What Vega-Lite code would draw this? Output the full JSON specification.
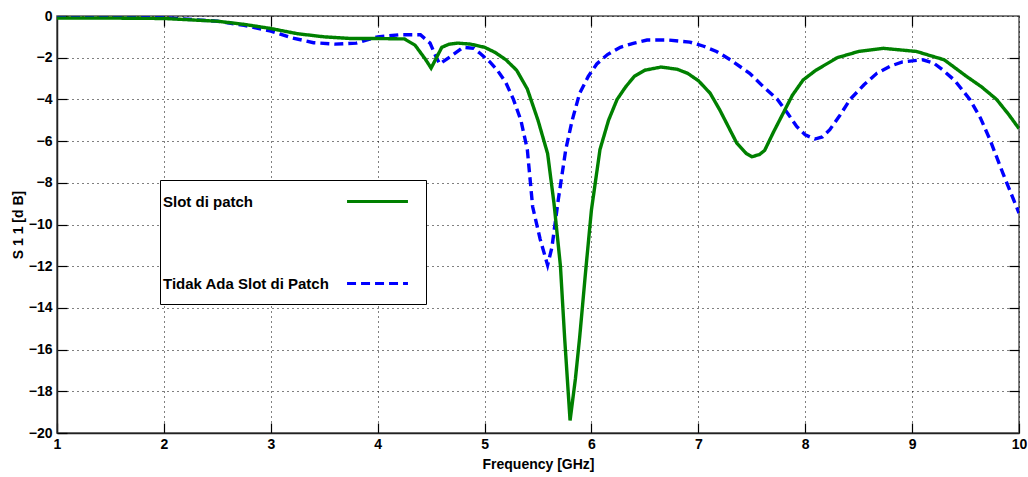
{
  "$schema": "https://vega.github.io/schema/vega-lite/v6.json",
  "width": 962,
  "height": 417,
  "autosize": {"type": "none"},
  "padding": {"left": 57, "top": 16, "right": 9, "bottom": 44},
  "background": "white",
  "config": {
    "view": {"stroke": "#555", "strokeWidth": 1.5},
    "font": "Liberation Sans",
    "axis": {
      "labelFont": "Liberation Sans", "labelFontSize": 14, "labelFontWeight": "bold", "labelColor": "#000",
      "titleFont": "Liberation Sans", "titleFontSize": 14, "titleFontWeight": "bold", "titleColor": "#000",
      "tickColor": "#000", "tickSize": -10, "tickWidth": 1.2,
      "domainColor": "#222", "domainWidth": 1.5,
      "gridColor": "#000", "gridDash": [1, 4], "gridOpacity": 1, "gridWidth": 1,
      "labelFlush": false, "labelOverlap": false
    },
    "legend": {
      "orient": "none", "legendX": 103, "legendY": 164,
      "fillColor": "white", "strokeColor": "#000", "strokeWidth": 1, "cornerRadius": 0,
      "padding": 12,
      "labelFont": "Liberation Sans", "labelFontSize": 15, "labelFontWeight": "bold", "labelColor": "#000", "labelLimit": 400,
      "symbolType": "M-4,0H4", "symbolSize": 232, "symbolStrokeWidth": 3,
      "labelOffset": -224, "symbolOffset": 196, "rowPadding": 64
    }
  },
  "data": {"values": [
    {"f": 1.0, "v": -0.05, "s": "Tidak Ada Slot di Patch"},
    {"f": 1.5, "v": -0.05, "s": "Tidak Ada Slot di Patch"},
    {"f": 2.0, "v": -0.08, "s": "Tidak Ada Slot di Patch"},
    {"f": 2.5, "v": -0.25, "s": "Tidak Ada Slot di Patch"},
    {"f": 2.75, "v": -0.45, "s": "Tidak Ada Slot di Patch"},
    {"f": 3.0, "v": -0.72, "s": "Tidak Ada Slot di Patch"},
    {"f": 3.2, "v": -1.05, "s": "Tidak Ada Slot di Patch"},
    {"f": 3.4, "v": -1.28, "s": "Tidak Ada Slot di Patch"},
    {"f": 3.6, "v": -1.35, "s": "Tidak Ada Slot di Patch"},
    {"f": 3.8, "v": -1.3, "s": "Tidak Ada Slot di Patch"},
    {"f": 4.0, "v": -1.0, "s": "Tidak Ada Slot di Patch"},
    {"f": 4.2, "v": -0.9, "s": "Tidak Ada Slot di Patch"},
    {"f": 4.4, "v": -0.9, "s": "Tidak Ada Slot di Patch"},
    {"f": 4.49, "v": -1.3, "s": "Tidak Ada Slot di Patch"},
    {"f": 4.55, "v": -2.0, "s": "Tidak Ada Slot di Patch"},
    {"f": 4.58, "v": -2.3, "s": "Tidak Ada Slot di Patch"},
    {"f": 4.68, "v": -1.95, "s": "Tidak Ada Slot di Patch"},
    {"f": 4.8, "v": -1.5, "s": "Tidak Ada Slot di Patch"},
    {"f": 4.9, "v": -1.55, "s": "Tidak Ada Slot di Patch"},
    {"f": 4.96, "v": -1.8, "s": "Tidak Ada Slot di Patch"},
    {"f": 5.05, "v": -2.2, "s": "Tidak Ada Slot di Patch"},
    {"f": 5.12, "v": -2.6, "s": "Tidak Ada Slot di Patch"},
    {"f": 5.2, "v": -3.2, "s": "Tidak Ada Slot di Patch"},
    {"f": 5.27, "v": -4.0, "s": "Tidak Ada Slot di Patch"},
    {"f": 5.34, "v": -5.0, "s": "Tidak Ada Slot di Patch"},
    {"f": 5.4, "v": -6.4, "s": "Tidak Ada Slot di Patch"},
    {"f": 5.45, "v": -9.15, "s": "Tidak Ada Slot di Patch"},
    {"f": 5.52, "v": -10.7, "s": "Tidak Ada Slot di Patch"},
    {"f": 5.59, "v": -11.95, "s": "Tidak Ada Slot di Patch"},
    {"f": 5.63, "v": -11.1, "s": "Tidak Ada Slot di Patch"},
    {"f": 5.69, "v": -8.8, "s": "Tidak Ada Slot di Patch"},
    {"f": 5.76, "v": -6.4, "s": "Tidak Ada Slot di Patch"},
    {"f": 5.82, "v": -5.0, "s": "Tidak Ada Slot di Patch"},
    {"f": 5.89, "v": -3.7, "s": "Tidak Ada Slot di Patch"},
    {"f": 5.97, "v": -2.9, "s": "Tidak Ada Slot di Patch"},
    {"f": 6.05, "v": -2.3, "s": "Tidak Ada Slot di Patch"},
    {"f": 6.15, "v": -1.85, "s": "Tidak Ada Slot di Patch"},
    {"f": 6.27, "v": -1.5, "s": "Tidak Ada Slot di Patch"},
    {"f": 6.4, "v": -1.3, "s": "Tidak Ada Slot di Patch"},
    {"f": 6.52, "v": -1.15, "s": "Tidak Ada Slot di Patch"},
    {"f": 6.71, "v": -1.15, "s": "Tidak Ada Slot di Patch"},
    {"f": 6.92, "v": -1.25, "s": "Tidak Ada Slot di Patch"},
    {"f": 7.05, "v": -1.45, "s": "Tidak Ada Slot di Patch"},
    {"f": 7.17, "v": -1.7, "s": "Tidak Ada Slot di Patch"},
    {"f": 7.3, "v": -2.1, "s": "Tidak Ada Slot di Patch"},
    {"f": 7.48, "v": -2.75, "s": "Tidak Ada Slot di Patch"},
    {"f": 7.6, "v": -3.35, "s": "Tidak Ada Slot di Patch"},
    {"f": 7.74, "v": -4.0, "s": "Tidak Ada Slot di Patch"},
    {"f": 7.84, "v": -4.7, "s": "Tidak Ada Slot di Patch"},
    {"f": 7.92, "v": -5.3, "s": "Tidak Ada Slot di Patch"},
    {"f": 8.0, "v": -5.7, "s": "Tidak Ada Slot di Patch"},
    {"f": 8.09, "v": -5.9, "s": "Tidak Ada Slot di Patch"},
    {"f": 8.16, "v": -5.8, "s": "Tidak Ada Slot di Patch"},
    {"f": 8.23, "v": -5.45, "s": "Tidak Ada Slot di Patch"},
    {"f": 8.32, "v": -4.8, "s": "Tidak Ada Slot di Patch"},
    {"f": 8.42, "v": -4.0, "s": "Tidak Ada Slot di Patch"},
    {"f": 8.55, "v": -3.3, "s": "Tidak Ada Slot di Patch"},
    {"f": 8.67, "v": -2.75, "s": "Tidak Ada Slot di Patch"},
    {"f": 8.8, "v": -2.4, "s": "Tidak Ada Slot di Patch"},
    {"f": 8.91, "v": -2.2, "s": "Tidak Ada Slot di Patch"},
    {"f": 9.1, "v": -2.1, "s": "Tidak Ada Slot di Patch"},
    {"f": 9.2, "v": -2.25, "s": "Tidak Ada Slot di Patch"},
    {"f": 9.29, "v": -2.6, "s": "Tidak Ada Slot di Patch"},
    {"f": 9.4, "v": -3.1, "s": "Tidak Ada Slot di Patch"},
    {"f": 9.54, "v": -4.0, "s": "Tidak Ada Slot di Patch"},
    {"f": 9.64, "v": -4.9, "s": "Tidak Ada Slot di Patch"},
    {"f": 9.73, "v": -5.95, "s": "Tidak Ada Slot di Patch"},
    {"f": 9.85, "v": -7.55, "s": "Tidak Ada Slot di Patch"},
    {"f": 10.0, "v": -9.45, "s": "Tidak Ada Slot di Patch"},
    {"f": 1.0, "v": -0.1, "s": "Slot di patch"},
    {"f": 1.5, "v": -0.1, "s": "Slot di patch"},
    {"f": 2.0, "v": -0.12, "s": "Slot di patch"},
    {"f": 2.5, "v": -0.25, "s": "Slot di patch"},
    {"f": 2.75, "v": -0.4, "s": "Slot di patch"},
    {"f": 3.0, "v": -0.6, "s": "Slot di patch"},
    {"f": 3.25, "v": -0.85, "s": "Slot di patch"},
    {"f": 3.5, "v": -1.0, "s": "Slot di patch"},
    {"f": 3.75, "v": -1.08, "s": "Slot di patch"},
    {"f": 4.0, "v": -1.08, "s": "Slot di patch"},
    {"f": 4.25, "v": -1.1, "s": "Slot di patch"},
    {"f": 4.35, "v": -1.4, "s": "Slot di patch"},
    {"f": 4.45, "v": -2.1, "s": "Slot di patch"},
    {"f": 4.5, "v": -2.5, "s": "Slot di patch"},
    {"f": 4.55, "v": -2.0, "s": "Slot di patch"},
    {"f": 4.6, "v": -1.5, "s": "Slot di patch"},
    {"f": 4.67, "v": -1.35, "s": "Slot di patch"},
    {"f": 4.75, "v": -1.3, "s": "Slot di patch"},
    {"f": 4.87, "v": -1.35, "s": "Slot di patch"},
    {"f": 5.0, "v": -1.5, "s": "Slot di patch"},
    {"f": 5.1, "v": -1.75, "s": "Slot di patch"},
    {"f": 5.2, "v": -2.1, "s": "Slot di patch"},
    {"f": 5.3, "v": -2.6, "s": "Slot di patch"},
    {"f": 5.4, "v": -3.5, "s": "Slot di patch"},
    {"f": 5.5, "v": -5.0, "s": "Slot di patch"},
    {"f": 5.59, "v": -6.6, "s": "Slot di patch"},
    {"f": 5.65, "v": -9.0, "s": "Slot di patch"},
    {"f": 5.71, "v": -12.0, "s": "Slot di patch"},
    {"f": 5.75, "v": -15.5, "s": "Slot di patch"},
    {"f": 5.8, "v": -19.4, "s": "Slot di patch"},
    {"f": 5.85, "v": -17.4, "s": "Slot di patch"},
    {"f": 5.89, "v": -15.4, "s": "Slot di patch"},
    {"f": 5.95, "v": -12.0, "s": "Slot di patch"},
    {"f": 6.0, "v": -9.3, "s": "Slot di patch"},
    {"f": 6.08, "v": -6.4, "s": "Slot di patch"},
    {"f": 6.16, "v": -5.0, "s": "Slot di patch"},
    {"f": 6.24, "v": -4.0, "s": "Slot di patch"},
    {"f": 6.32, "v": -3.4, "s": "Slot di patch"},
    {"f": 6.4, "v": -2.9, "s": "Slot di patch"},
    {"f": 6.5, "v": -2.6, "s": "Slot di patch"},
    {"f": 6.65, "v": -2.45, "s": "Slot di patch"},
    {"f": 6.8, "v": -2.55, "s": "Slot di patch"},
    {"f": 6.9, "v": -2.75, "s": "Slot di patch"},
    {"f": 7.0, "v": -3.1, "s": "Slot di patch"},
    {"f": 7.11, "v": -3.7, "s": "Slot di patch"},
    {"f": 7.2, "v": -4.5, "s": "Slot di patch"},
    {"f": 7.3, "v": -5.5, "s": "Slot di patch"},
    {"f": 7.36, "v": -6.1, "s": "Slot di patch"},
    {"f": 7.45, "v": -6.6, "s": "Slot di patch"},
    {"f": 7.5, "v": -6.75, "s": "Slot di patch"},
    {"f": 7.57, "v": -6.65, "s": "Slot di patch"},
    {"f": 7.62, "v": -6.45, "s": "Slot di patch"},
    {"f": 7.7, "v": -5.6, "s": "Slot di patch"},
    {"f": 7.79, "v": -4.7, "s": "Slot di patch"},
    {"f": 7.88, "v": -3.8, "s": "Slot di patch"},
    {"f": 7.98, "v": -3.07, "s": "Slot di patch"},
    {"f": 8.1, "v": -2.6, "s": "Slot di patch"},
    {"f": 8.3, "v": -2.0, "s": "Slot di patch"},
    {"f": 8.5, "v": -1.7, "s": "Slot di patch"},
    {"f": 8.73, "v": -1.55, "s": "Slot di patch"},
    {"f": 9.04, "v": -1.7, "s": "Slot di patch"},
    {"f": 9.3, "v": -2.1, "s": "Slot di patch"},
    {"f": 9.51, "v": -2.9, "s": "Slot di patch"},
    {"f": 9.65, "v": -3.4, "s": "Slot di patch"},
    {"f": 9.79, "v": -4.0, "s": "Slot di patch"},
    {"f": 9.9, "v": -4.7, "s": "Slot di patch"},
    {"f": 10.0, "v": -5.4, "s": "Slot di patch"}
  ]},
  "layer": [
    {
      "mark": {"type": "line", "strokeWidth": 3.4, "clip": true},
      "encoding": {
        "x": {"field": "f", "type": "quantitative", "scale": {"domain": [1, 10], "nice": false, "zero": false},
              "axis": {"title": "Frequency [GHz]", "values": [1, 2, 3, 4, 5, 6, 7, 8, 9, 10], "format": "d", "labelPadding": 14, "titlePadding": 6, "grid": true}},
        "y": {"field": "v", "type": "quantitative", "scale": {"domain": [-20, 0], "nice": false},
              "axis": {"title": "S 1 1 [d B]", "values": [-20, -18, -16, -14, -12, -10, -8, -6, -4, -2, 0], "format": "d", "labelPadding": 15, "titlePadding": 3, "grid": true}},
        "color": {"field": "s", "type": "nominal", "sort": null,
                  "scale": {"domain": ["Slot di patch", "Tidak Ada Slot di Patch"], "range": ["#008000", "#0000ff"]},
                  "legend": {"title": null}},
        "strokeDash": {"field": "s", "type": "nominal", "sort": null,
                  "scale": {"domain": ["Slot di patch", "Tidak Ada Slot di Patch"], "range": [[1, 0], [9, 5]]},
                  "legend": {"title": null}}
      }
    },
    {
      "mark": {"type": "line", "opacity": 0},
      "encoding": {
        "x": {"field": "f", "type": "quantitative", "scale": {"domain": [1, 10], "nice": false, "zero": false},
              "axis": {"orient": "top", "title": null, "labels": false, "values": [2, 3, 4, 5, 6, 7, 8, 9], "grid": false, "domain": false}},
        "y": {"field": "v", "type": "quantitative", "scale": {"domain": [-20, 0], "nice": false},
              "axis": {"orient": "right", "title": null, "labels": false, "values": [-18, -16, -14, -12, -10, -8, -6, -4, -2], "grid": false, "domain": false}}
      }
    }
  ],
  "resolve": {"axis": {"x": "independent", "y": "independent"}}
}
